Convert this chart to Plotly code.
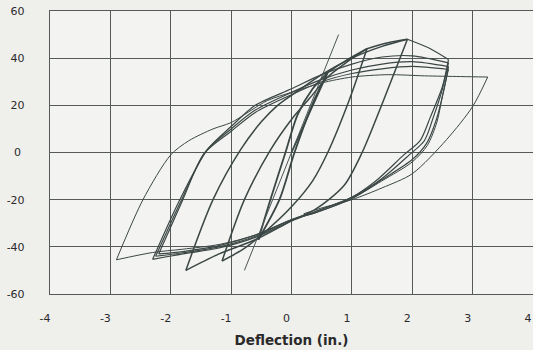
import plotly.graph_objects as go

# Hysteresis cycles (deflection in., load)
c1_x = [0.0, 0.3, 0.6, 0.38, 0.05, -0.2, -0.55, -0.35, -0.1, 0.1, 0.35, 0.6]
c1_y = [0.0, 17, 34, 22.5, 0.0, -20, -37, -20, 0.0, 16, 27, 34]

c2_x = [0.6, 0.9, 1.25, 0.96, 0.6, 0.35, 0.0, -0.5, -0.8, -1.15, -0.78, -0.35, 0.0, 0.3, 0.6, 0.9, 1.25]
c2_y = [34, 39, 44, 22.5, 0.0, -12, -23, -35, -41, -46, -20, 1, 14, 23, 32, 38, 44]

c3_x = [1.25, 1.6, 1.92, 1.53, 1.17, 0.87, 0.4, 0.0, -0.6, -1.2, -1.75, -1.3, -0.84, -0.5, -0.23, 0.1, 0.5, 1.0, 1.5, 1.92]
c3_y = [44, 46.5, 48, 22.5, 0.0, -14, -24, -29, -37, -43, -50, -20, 1.3, 13, 20, 26, 33, 40, 45, 48]

c4a_x = [1.92, 2.3, 2.6, 2.5, 2.3, 2.13, 1.86, 1.4, 1.0, 0.4, 0.0, -0.6, -1.2, -1.8, -2.3, -1.85, -1.39, -1.0, -0.6, 0.0, 0.5, 1.0, 1.5, 2.0, 2.6]
c4a_y = [48, 44, 39.4, 28, 15, 5, -1, -12, -19, -25, -29, -36, -40.5, -43, -45.3, -20, 1.3, 11, 20, 27, 33, 37.5, 40.5, 41, 38]

c4b_x = [2.6, 2.5, 2.35, 2.2, 1.95, 1.5, 1.0, 0.4, 0.0, -0.6, -1.2, -1.8, -2.25, -1.82, -1.42, -1.0, -0.6, 0.0, 0.5, 1.0, 1.5, 2.0, 2.6]
c4b_y = [38, 27, 15, 5, -1, -11, -19, -25, -28.5, -35.5, -40, -42.5, -44, -20, 0.5, 10, 18, 25.5, 31, 35, 37.5, 38.5, 36.4]

c4c_x = [2.6, 2.52, 2.4, 2.24, 2.0, 1.5, 1.0, 0.4, 0.0, -0.6, -1.2, -1.8, -2.2, -1.8, -1.45, -1.0, -0.6, 0.0, 0.5, 1.0, 1.5, 2.0, 2.6]
c4c_y = [36.4, 26, 14, 4, -3, -11.5, -19.5, -25.5, -28.5, -35, -39.5, -42, -43, -20, -0.5, 9, 17, 24.5, 30, 33.5, 35.5, 36.5, 35.2]

c5_x = [2.6, 2.5, 2.41, 2.25, 2.0, 1.5, 1.0, 0.4, 0.0, -0.6, -1.2, -1.8, -2.3, -2.9, -2.46, -2.0, -1.7, -1.3, -1.0, -0.4, 0.0, 0.5, 1.0, 1.6, 2.2, 2.8, 3.25, 3.0, 2.57, 2.0, 1.5, 1.0, 0.5, 0.2]
c5_y = [35.2, 24, 13, 3, -4, -12, -19.5, -25.5, -28.5, -35, -39, -41, -42.4, -45.5, -20, -1, 5, 10, 12.7, 22, 25.5, 29.5, 32, 33, 32.5, 32.2, 32, 19.5, 5.5, -9, -15, -20, -23.5, -26]

ref_x = [-0.78, 0.78]
ref_y = [-50, 50]

x_tickvals = [-4, -3, -2, -1, 0, 1, 2, 3, 4]
x_ticktext = ["-4", "-3", "-2", "-1", "0", "1", "2", "3", "4"]
y_tickvals = [-60, -40, -20, 0, 20, 40, 60]
y_ticktext = ["-60", "-40", "-20", "0\u00a0", "20", "40", "60"]


def branches(xs, ys):
    """Split a cycle where the deflection direction reverses (load peaks)."""
    out = []
    start = 0
    for i in range(1, len(xs) - 1):
        d1 = xs[i] - xs[i - 1]
        d2 = xs[i + 1] - xs[i]
        if d1 * d2 < 0:
            out.append((xs[start:i + 1], ys[start:i + 1]))
            start = i
    out.append((xs[start:], ys[start:]))
    return out


line_color = "#3b4745"
fig = go.Figure()
cycles = [(c1_x, c1_y, 1.8), (c2_x, c2_y, 1.5), (c3_x, c3_y, 1.5),
          (c4a_x, c4a_y, 1.2), (c4b_x, c4b_y, 1.2), (c4c_x, c4c_y, 1.2),
          (c5_x, c5_y, 1.0)]
for xs, ys, w in cycles:
    for bx, by in branches(xs, ys):
        fig.add_trace(go.Scatter(x=bx, y=by, mode="lines",
                                 line=dict(color=line_color, width=w, shape="spline", smoothing=0.8),
                                 showlegend=False, hoverinfo="skip"))
fig.add_trace(go.Scatter(x=ref_x, y=ref_y, mode="lines",
                         line=dict(color="#4a5553", width=1.0),
                         showlegend=False, hoverinfo="skip"))

grid = "#555a59"
fig.update_layout(
    width=533, height=350,
    margin=dict(l=50, r=0, t=11, b=56),
    paper_bgcolor="#efefec", plot_bgcolor="#f3f3f1",
    font=dict(family="DejaVu Sans, Liberation Sans, Arial", size=11, color="#2a2a2a"),
    xaxis=dict(range=[-4, 4], tickvals=x_tickvals, ticktext=x_ticktext, automargin=False,
               ticklabeloverflow="allow", ticklabelshift=-5,
               showgrid=True, gridcolor=grid, gridwidth=1.4,
               zeroline=False, showline=True, linecolor=grid, linewidth=1.4, mirror=True,
               ticks="", ticklabelstandoff=14,
               title=dict(text="<b>Deflection (in.)</b>",
                          font=dict(size=13.5, color="#2a2a2a"), standoff=11)),
    yaxis=dict(range=[-60, 60], tickvals=y_tickvals, ticktext=y_ticktext, automargin=False,
               ticklabeloverflow="allow",
               showgrid=True, gridcolor=grid, gridwidth=1.4,
               zeroline=False, showline=True, linecolor=grid, linewidth=1.4, mirror=True,
               ticks="", ticklabelstandoff=22),
)
fig.write_html("out.html", config={"displayModeBar": False},
               post_script="document.body.style.margin='0';document.body.style.overflow='hidden';document.body.style.background='#efefec';")
